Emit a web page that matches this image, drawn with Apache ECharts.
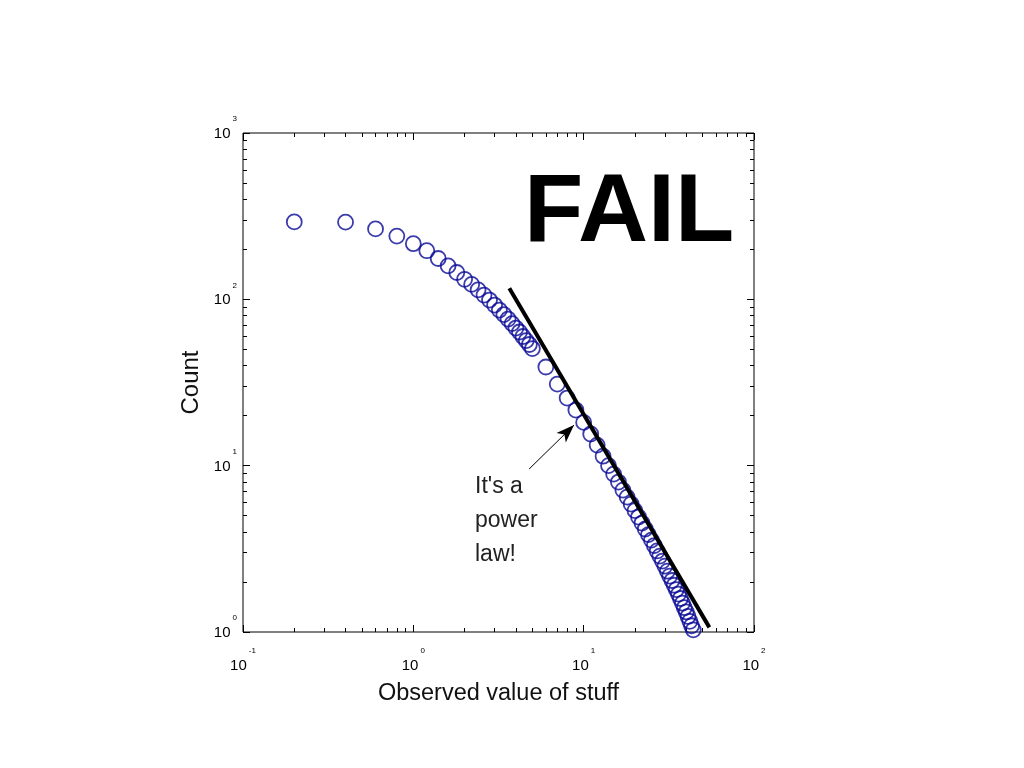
<!DOCTYPE html>
<html><head><meta charset="utf-8">
<script src="https://cdn.jsdelivr.net/npm/echarts@6/dist/echarts.min.js"></script>
<style>html,body{margin:0;padding:0;background:#fff}#c{width:1024px;height:768px}</style>
</head><body><div id="c"></div>
<script>
// ---- data ----
const xValues = [0.2,0.4,0.6,0.8,1.0,1.2,1.4,1.6,1.8,2.0,2.2,2.4,2.6,2.8,3.0,3.2,3.4,3.6,3.8,4.0,4.2,4.4,4.6,4.8,5.0,
  6,7,8,9,10,11,12,13,14,15,16,17,18,19,20,21,22,23,24,25,26,27,28,29,30,31,32,33,34,35,36,37,38,39,40,41,42,43,44];
const yCounts = [292,291,265,240,216,196,176,159,145,132,123,114,106,99,92.4,86.2,81.0,76.1,71.5,67.2,63.6,59.8,56.5,53.5,50.6,
  39.2,30.9,25.5,21.6,18.2,15.5,13.3,11.4,10.0,8.9,7.97,7.13,6.47,5.88,5.37,4.91,4.52,4.16,3.85,3.57,3.31,3.07,2.86,2.67,2.49,
  2.32,2.17,2.04,1.91,1.80,1.69,1.59,1.49,1.40,1.32,1.24,1.16,1.09,1.03];
const powerLawX = [3.66, 54.7];
const powerLawY = [116.5, 1.066];
const arrowFrom = [4.78, 9.54];
const arrowTo = [8.78, 17.54];
const xRange = [0.1, 100];
const yRange = [1, 1000];
const xMajorTicks = [0.1, 1, 10, 100];
const yMajorTicks = [1, 10, 100, 1000];
const minorMultipliers = [2, 3, 4, 5, 6, 7, 8, 9];
const xTitle = 'Observed value of stuff';
const yTitle = 'Count';
const annotationLines = ["It's a", 'power', 'law!'];
const stampText = 'FAIL';

// ---- build ----
function minorOf(majors) {
  const out = [];
  for (let i = 0; i < majors.length - 1; i++) minorMultipliers.forEach(m => out.push(+(majors[i] * m).toPrecision(6)));
  return out;
}
const xMinor = minorOf(xMajorTicks), yMinor = minorOf(yMajorTicks);
const FONT = '"Liberation Sans", Arial, Helvetica, sans-serif';
const fmt = v => '{b|10}{s|' + Math.round(Math.log10(v)) + '}';

function axis(pos, majors, minors, isMajor, range, extra) {
  const a = {
    type: 'log', logBase: 10, min: range[0], max: range[1], position: pos,
    axisLine: { show: false }, splitLine: { show: false },
    axisTick: { show: true, inside: true, length: isMajor ? 7 : 4, customValues: isMajor ? majors : minors,
      lineStyle: { color: '#000', width: 1 } },
    axisLabel: { show: false }
  };
  return Object.assign(a, extra || {});
}

const xLabel = {
  show: true, customValues: xMajorTicks, formatter: fmt, margin: 24.5, color: '#000',
  rich: {
    b: { fontSize: 15, fontFamily: FONT, color: '#000', lineHeight: 16, padding: [12, 0, 9, 0] },
    s: { fontSize: 8, fontFamily: FONT, color: '#000', lineHeight: 9, padding: [0, 0, 28, 2] }
  }
};
const yLabel = {
  show: true, customValues: yMajorTicks, formatter: fmt, margin: 6, color: '#000',
  rich: {
    b: { fontSize: 15, fontFamily: FONT, color: '#000', lineHeight: 16, padding: [11.5, 0, 9.5, 0] },
    s: { fontSize: 8, fontFamily: FONT, color: '#000', lineHeight: 9, padding: [0, 0, 28, 2] }
  }
};

const chart = echarts.init(document.getElementById('c'), null, { renderer: 'canvas' });
chart.setOption({
  animation: false,
  backgroundColor: '#fff',
  grid: { left: 243, top: 133, width: 511, height: 499, show: true, borderColor: '#000', borderWidth: 1,
    backgroundColor: 'transparent', containLabel: false, outerBoundsMode: 'none' },
  xAxis: [
    axis('bottom', xMajorTicks, xMinor, true, xRange, {
      axisLabel: xLabel, name: xTitle, nameLocation: 'middle', nameGap: 50, nameMoveOverlap: false,
      nameTextStyle: { fontSize: 23.5, fontFamily: FONT, color: '#111' } }),
    axis('bottom', xMajorTicks, xMinor, false, xRange),
    axis('top', xMajorTicks, xMinor, true, xRange),
    axis('top', xMajorTicks, xMinor, false, xRange)
  ],
  yAxis: [
    axis('left', yMajorTicks, yMinor, true, yRange, {
      axisLabel: yLabel, name: yTitle, nameLocation: 'middle', nameGap: 40, nameMoveOverlap: false,
      nameTextStyle: { fontSize: 24, fontFamily: FONT, color: '#111' } }),
    axis('left', yMajorTicks, yMinor, false, yRange),
    axis('right', yMajorTicks, yMinor, true, yRange),
    axis('right', yMajorTicks, yMinor, false, yRange)
  ],
  series: [
    {
      type: 'scatter', xAxisIndex: 0, yAxisIndex: 0, z: 2,
      data: xValues.map((x, i) => [x, yCounts[i]]),
      symbol: 'circle', symbolSize: 15,
      itemStyle: { color: 'rgba(0,0,0,0)', borderColor: '#0a0a96', borderWidth: 1.8 },
      emphasis: { disabled: true }, silent: true,
      markLine: {
        silent: true, animation: false,
        lineStyle: { color: '#000', width: 1, type: 'solid' },
        label: { show: false },
        data: [[
          { coord: arrowFrom, symbol: 'none' },
          { coord: arrowTo, symbol: 'arrow', symbolSize: [10, 18] }
        ]]
      }
    },
    {
      type: 'line', xAxisIndex: 0, yAxisIndex: 0, z: 3,
      data: powerLawX.map((x, i) => [x, powerLawY[i]]),
      showSymbol: false, symbol: 'none',
      lineStyle: { color: '#000', width: 4 },
      emphasis: { disabled: true }, silent: true
    }
  ],
  graphic: [
    { type: 'text', left: 524, top: 166, silent: true,
      style: { text: stampText, font: 'bold 97px ' + FONT, lineHeight: 97, fill: '#000' } },
    { type: 'text', left: 475, top: 470, silent: true,
      style: { text: annotationLines.join('\n'), font: '23px ' + FONT, lineHeight: 34, fill: '#222' } }
  ]
});
</script>
</body></html>
